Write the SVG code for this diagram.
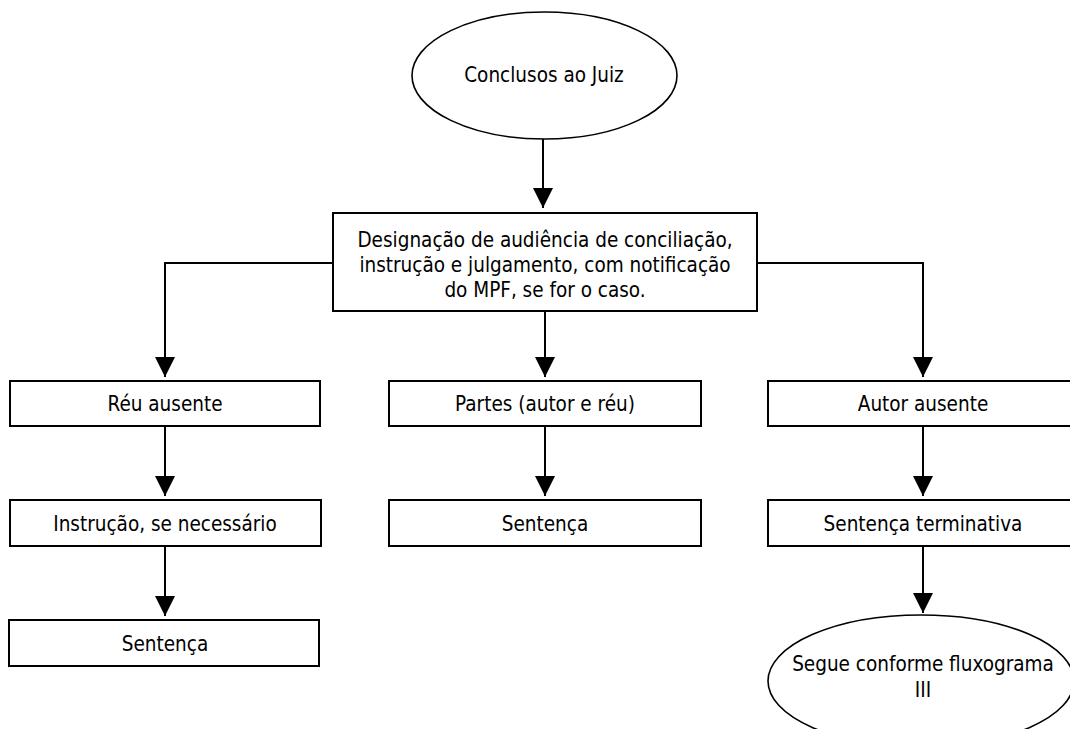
<svg xmlns="http://www.w3.org/2000/svg" width="1070" height="729" viewBox="0 0 1070 729">
  <style>
    .shape { fill: #ffffff; stroke: #000000; stroke-width: 2; }
    .oval { fill: #ffffff; stroke: #000000; stroke-width: 1.6; }
    .label { font-family: "DejaVu Sans Condensed", "DejaVu Sans", sans-serif; font-stretch: condensed; font-size: 20.5px; fill: #000000; text-anchor: middle; }
    .wire { fill: none; stroke: #000000; stroke-width: 2; marker-end: url(#arrow); }
  </style>
  <defs>
    <marker id="arrow" markerUnits="userSpaceOnUse" markerWidth="20" markerHeight="20" viewBox="0 0 20 20" refX="20" refY="10" orient="auto">
      <path d="M0,0 L20,10 L0,20 Z" fill="#000000"/>
    </marker>
  </defs>
  <rect width="1070" height="729" fill="#ffffff"/>

  <!-- connectors -->
  <g id="connectors">
    <path class="wire" d="M543,139 V208"/>
    <path class="wire" d="M333,263 H165 V377"/>
    <path class="wire" d="M545,311 V377"/>
    <path class="wire" d="M757,263 H923 V377"/>
    <path class="wire" d="M165,426 V496"/>
    <path class="wire" d="M165,546 V616"/>
    <path class="wire" d="M545,426 V496"/>
    <path class="wire" d="M923,426 V496"/>
    <path class="wire" d="M923,546 V613"/>
  </g>

  <g id="start">
    <ellipse class="oval" cx="544.5" cy="75.5" rx="132.5" ry="63.5"/>
    <text class="label" x="544" y="82">Conclusos ao Juiz</text>
  </g>

  <g id="hearing">
    <rect class="shape" x="333" y="213" width="424" height="98"/>
    <text class="label" x="545" y="247">Designação de audiência de conciliação,</text>
    <text class="label" x="545" y="272">instrução e julgamento, com notificação</text>
    <text class="label" x="545" y="297">do MPF, se for o caso.</text>
  </g>

  <g id="reu-ausente">
    <rect class="shape" x="10" y="381" width="310" height="45"/>
    <text class="label" x="165" y="411">Réu ausente</text>
  </g>

  <g id="partes">
    <rect class="shape" x="389" y="381" width="312" height="45"/>
    <text class="label" x="545" y="411">Partes (autor e réu)</text>
  </g>

  <g id="autor-ausente">
    <rect class="shape" x="768" y="381" width="312" height="45"/>
    <text class="label" x="923" y="411">Autor ausente</text>
  </g>

  <g id="instrucao">
    <rect class="shape" x="10" y="500" width="311" height="46"/>
    <text class="label" x="165" y="531">Instrução, se necessário</text>
  </g>

  <g id="sentenca-partes">
    <rect class="shape" x="389" y="500" width="312" height="46"/>
    <text class="label" x="545" y="531">Sentença</text>
  </g>

  <g id="sentenca-terminativa">
    <rect class="shape" x="768" y="500" width="312" height="46"/>
    <text class="label" x="923" y="531">Sentença terminativa</text>
  </g>

  <g id="sentenca-reu">
    <rect class="shape" x="9" y="620" width="310" height="46"/>
    <text class="label" x="165" y="651">Sentença</text>
  </g>

  <g id="fluxograma">
    <ellipse class="oval" cx="921" cy="681" rx="153" ry="66"/>
    <text class="label" x="923" y="671">Segue conforme fluxograma</text>
    <text class="label" x="923" y="697">III</text>
  </g>
</svg>
